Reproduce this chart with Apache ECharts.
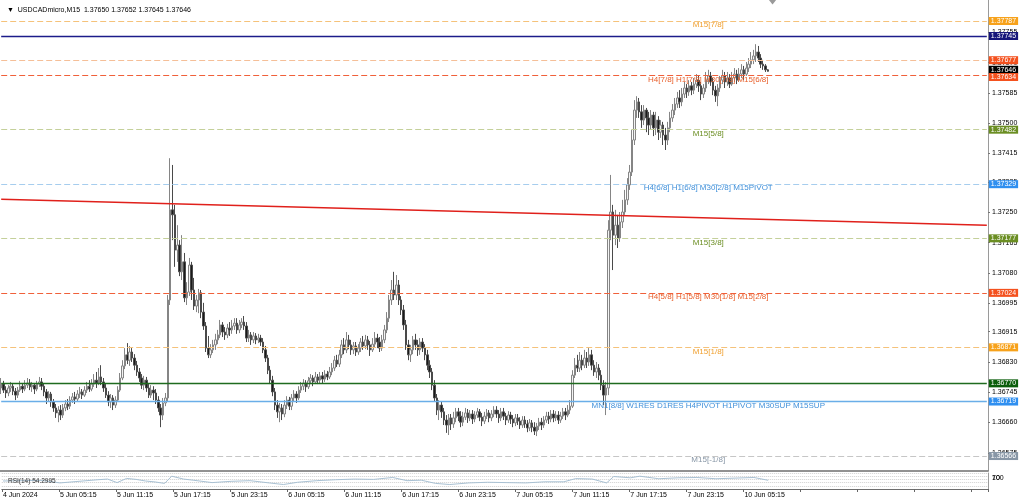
<!DOCTYPE html>
<html>
<head>
<meta charset="utf-8">
<script src="https://cdn.jsdelivr.net/npm/echarts@6.0.0/dist/echarts.min.js"></script>
<style>
html,body{margin:0;padding:0;background:#fff;}
#chart{width:1024px;height:501px;}
</style>
</head>
<body>
<div id="chart"></div>
<script>
// ---------- DATA ----------
const symbolName = "USDCADmicro,M15";
// candles: [open, close, low, high]
const candles = [
[1.36757,1.36768,1.36740,1.36785],[1.36768,1.36751,1.36743,1.36777],[1.36751,1.36743,1.36729,1.36762],[1.36743,1.36757,1.36734,1.36765],
[1.36757,1.36762,1.36746,1.36774],[1.36762,1.36748,1.36737,1.36771],[1.36748,1.36737,1.36723,1.36757],[1.36737,1.36751,1.36729,1.36760],
[1.36751,1.36762,1.36746,1.36777],[1.36762,1.36754,1.36743,1.36771],[1.36754,1.36765,1.36748,1.36779],[1.36765,1.36771,1.36757,1.36785],
[1.36771,1.36760,1.36751,1.36782],[1.36760,1.36765,1.36746,1.36774],[1.36765,1.36754,1.36740,1.36771],[1.36754,1.36768,1.36748,1.36777],
[1.36768,1.36774,1.36760,1.36788],[1.36774,1.36762,1.36751,1.36785],[1.36762,1.36746,1.36734,1.36771],[1.36746,1.36729,1.36712,1.36754],
[1.36729,1.36740,1.36718,1.36748],[1.36740,1.36718,1.36704,1.36746],[1.36718,1.36701,1.36690,1.36726],[1.36701,1.36687,1.36673,1.36712],
[1.36687,1.36695,1.36661,1.36706],[1.36695,1.36681,1.36667,1.36709],[1.36681,1.36701,1.36673,1.36712],[1.36701,1.36712,1.36692,1.36723],
[1.36712,1.36706,1.36695,1.36726],[1.36706,1.36723,1.36698,1.36734],[1.36723,1.36732,1.36715,1.36743],[1.36732,1.36726,1.36712,1.36746],
[1.36726,1.36740,1.36720,1.36751],[1.36740,1.36746,1.36729,1.36760],[1.36746,1.36737,1.36726,1.36754],[1.36737,1.36751,1.36732,1.36762],
[1.36751,1.36762,1.36743,1.36774],[1.36762,1.36754,1.36746,1.36779],[1.36754,1.36768,1.36748,1.36782],[1.36768,1.36779,1.36760,1.36796],
[1.36779,1.36771,1.36757,1.36802],[1.36771,1.36788,1.36765,1.36813],[1.36788,1.36774,1.36765,1.36821],[1.36774,1.36757,1.36746,1.36785],
[1.36757,1.36737,1.36729,1.36768],[1.36737,1.36718,1.36706,1.36748],[1.36718,1.36729,1.36701,1.36740],[1.36729,1.36709,1.36695,1.36737],
[1.36709,1.36723,1.36701,1.36734],[1.36723,1.36751,1.36718,1.36762],[1.36751,1.36785,1.36746,1.36799],[1.36785,1.36819,1.36779,1.36835],
[1.36819,1.36850,1.36810,1.36869],[1.36850,1.36835,1.36824,1.36883],[1.36835,1.36858,1.36819,1.36875],[1.36858,1.36841,1.36830,1.36869],
[1.36841,1.36821,1.36807,1.36852],[1.36821,1.36802,1.36791,1.36833],[1.36802,1.36785,1.36774,1.36813],[1.36785,1.36765,1.36754,1.36796],
[1.36765,1.36779,1.36751,1.36791],[1.36779,1.36757,1.36746,1.36788],[1.36757,1.36737,1.36729,1.36768],[1.36737,1.36751,1.36729,1.36765],
[1.36751,1.36743,1.36723,1.36762],[1.36743,1.36723,1.36712,1.36754],[1.36723,1.36701,1.36690,1.36734],[1.36701,1.36681,1.36647,1.36712],
[1.36681,1.36715,1.36667,1.36729],[1.36715,1.36729,1.36706,1.36743],[1.36729,1.37004,1.36718,1.37018],[1.37004,1.37257,1.36990,1.37402],
[1.37257,1.37243,1.37172,1.37383],[1.37243,1.37144,1.37097,1.37271],[1.37144,1.37158,1.37111,1.37214],[1.37158,1.37083,1.37071,1.37172],
[1.37083,1.37111,1.37060,1.37186],[1.37111,1.37010,1.36998,1.37136],[1.37010,1.37026,1.36990,1.37054],[1.37026,1.37102,1.37015,1.37122],
[1.37102,1.37032,1.37004,1.37111],[1.37032,1.36987,1.36976,1.37066],[1.36987,1.37004,1.36970,1.37018],[1.37004,1.37024,1.36967,1.37035],
[1.37024,1.36970,1.36953,1.37032],[1.36970,1.36931,1.36920,1.36996],[1.36931,1.36869,1.36858,1.36942],[1.36869,1.36850,1.36841,1.36903],
[1.36850,1.36864,1.36841,1.36880],[1.36864,1.36878,1.36855,1.36892],[1.36878,1.36892,1.36864,1.36909],[1.36892,1.36906,1.36880,1.36920],
[1.36906,1.36934,1.36897,1.36948],[1.36934,1.36914,1.36900,1.36942],[1.36914,1.36906,1.36892,1.36928],[1.36906,1.36925,1.36897,1.36937],
[1.36925,1.36920,1.36903,1.36942],[1.36920,1.36931,1.36909,1.36948],[1.36931,1.36939,1.36920,1.36953],[1.36939,1.36920,1.36909,1.36953],
[1.36920,1.36934,1.36911,1.36948],[1.36934,1.36942,1.36925,1.36953],[1.36942,1.36931,1.36920,1.36959],[1.36931,1.36897,1.36886,1.36942],
[1.36897,1.36906,1.36886,1.36920],[1.36906,1.36892,1.36878,1.36914],[1.36892,1.36903,1.36883,1.36914],[1.36903,1.36892,1.36880,1.36911],
[1.36892,1.36897,1.36883,1.36909],[1.36897,1.36886,1.36875,1.36906],[1.36886,1.36864,1.36855,1.36897],[1.36864,1.36841,1.36830,1.36875],
[1.36841,1.36807,1.36796,1.36850],[1.36807,1.36779,1.36768,1.36819],[1.36779,1.36746,1.36734,1.36791],[1.36746,1.36709,1.36695,1.36757],
[1.36709,1.36690,1.36673,1.36723],[1.36690,1.36701,1.36661,1.36715],[1.36701,1.36684,1.36667,1.36712],[1.36684,1.36709,1.36675,1.36723],
[1.36709,1.36723,1.36698,1.36734],[1.36723,1.36706,1.36695,1.36732],[1.36706,1.36729,1.36695,1.36740],[1.36729,1.36740,1.36720,1.36751],
[1.36740,1.36729,1.36715,1.36748],[1.36729,1.36751,1.36723,1.36762],[1.36751,1.36762,1.36743,1.36774],[1.36762,1.36771,1.36751,1.36782],
[1.36771,1.36760,1.36746,1.36779],[1.36760,1.36777,1.36754,1.36788],[1.36777,1.36785,1.36768,1.36796],[1.36785,1.36774,1.36762,1.36793],
[1.36774,1.36788,1.36768,1.36802],[1.36788,1.36779,1.36768,1.36796],[1.36779,1.36791,1.36771,1.36802],[1.36791,1.36782,1.36771,1.36802],
[1.36782,1.36796,1.36774,1.36807],[1.36796,1.36788,1.36779,1.36805],[1.36788,1.36802,1.36782,1.36816],[1.36802,1.36813,1.36793,1.36827],
[1.36813,1.36835,1.36805,1.36847],[1.36835,1.36824,1.36816,1.36850],[1.36824,1.36850,1.36816,1.36864],[1.36850,1.36878,1.36841,1.36892],
[1.36878,1.36864,1.36852,1.36897],[1.36864,1.36892,1.36855,1.36914],[1.36892,1.36878,1.36866,1.36906],[1.36878,1.36864,1.36850,1.36892],
[1.36864,1.36875,1.36852,1.36886],[1.36875,1.36858,1.36847,1.36886],[1.36858,1.36869,1.36850,1.36880],[1.36869,1.36886,1.36858,1.36897],
[1.36886,1.36875,1.36864,1.36903],[1.36875,1.36892,1.36866,1.36906],[1.36892,1.36878,1.36864,1.36903],[1.36878,1.36864,1.36847,1.36889],
[1.36864,1.36880,1.36858,1.36897],[1.36880,1.36897,1.36872,1.36914],[1.36897,1.36886,1.36869,1.36909],[1.36886,1.36869,1.36858,1.36900],
[1.36869,1.36892,1.36861,1.36906],[1.36892,1.36920,1.36883,1.36934],[1.36920,1.36953,1.36911,1.36970],[1.36953,1.37004,1.36942,1.37018],
[1.37004,1.37032,1.36990,1.37060],[1.37032,1.37018,1.37004,1.37083],[1.37018,1.37046,1.37004,1.37074],[1.37046,1.37004,1.36990,1.37060],
[1.37004,1.36976,1.36962,1.37015],[1.36976,1.36934,1.36920,1.36990],[1.36934,1.36878,1.36864,1.36948],[1.36878,1.36850,1.36835,1.36892],
[1.36850,1.36864,1.36830,1.36878],[1.36864,1.36892,1.36852,1.36903],[1.36892,1.36878,1.36864,1.36909],[1.36878,1.36864,1.36847,1.36892],
[1.36864,1.36886,1.36850,1.36897],[1.36886,1.36869,1.36858,1.36897],[1.36869,1.36850,1.36835,1.36880],[1.36850,1.36821,1.36807,1.36864],
[1.36821,1.36802,1.36785,1.36835],[1.36802,1.36765,1.36751,1.36813],[1.36765,1.36729,1.36718,1.36779],[1.36729,1.36695,1.36681,1.36740],
[1.36695,1.36709,1.36667,1.36723],[1.36709,1.36690,1.36673,1.36718],[1.36690,1.36667,1.36653,1.36701],[1.36667,1.36653,1.36631,1.36681],
[1.36653,1.36673,1.36625,1.36684],[1.36673,1.36656,1.36639,1.36684],[1.36656,1.36673,1.36645,1.36690],[1.36673,1.36690,1.36661,1.36701],
[1.36690,1.36678,1.36664,1.36701],[1.36678,1.36661,1.36647,1.36692],[1.36661,1.36675,1.36650,1.36690],[1.36675,1.36687,1.36667,1.36701],
[1.36687,1.36673,1.36659,1.36698],[1.36673,1.36684,1.36664,1.36695],[1.36684,1.36670,1.36656,1.36695],[1.36670,1.36681,1.36661,1.36692],
[1.36681,1.36690,1.36673,1.36701],[1.36690,1.36675,1.36664,1.36698],[1.36675,1.36664,1.36650,1.36687],[1.36664,1.36678,1.36656,1.36690],
[1.36678,1.36687,1.36670,1.36698],[1.36687,1.36673,1.36661,1.36695],[1.36673,1.36684,1.36664,1.36695],[1.36684,1.36695,1.36675,1.36706],
[1.36695,1.36684,1.36673,1.36706],[1.36684,1.36673,1.36659,1.36695],[1.36673,1.36690,1.36664,1.36701],[1.36690,1.36678,1.36667,1.36701],
[1.36678,1.36667,1.36653,1.36687],[1.36667,1.36681,1.36659,1.36692],[1.36681,1.36670,1.36656,1.36690],[1.36670,1.36659,1.36647,1.36681],
[1.36659,1.36673,1.36650,1.36684],[1.36673,1.36664,1.36653,1.36684],[1.36664,1.36653,1.36642,1.36675],[1.36653,1.36667,1.36645,1.36678],
[1.36667,1.36656,1.36645,1.36678],[1.36656,1.36645,1.36633,1.36667],[1.36645,1.36659,1.36636,1.36670],[1.36659,1.36647,1.36633,1.36667],
[1.36647,1.36636,1.36625,1.36661],[1.36636,1.36650,1.36622,1.36659],[1.36650,1.36661,1.36639,1.36673],[1.36661,1.36653,1.36639,1.36673],
[1.36653,1.36667,1.36645,1.36678],[1.36667,1.36678,1.36659,1.36690],[1.36678,1.36670,1.36656,1.36690],[1.36670,1.36684,1.36661,1.36695],
[1.36684,1.36673,1.36661,1.36695],[1.36673,1.36681,1.36664,1.36692],[1.36681,1.36667,1.36656,1.36692],[1.36667,1.36678,1.36659,1.36690],
[1.36678,1.36690,1.36670,1.36701],[1.36690,1.36681,1.36667,1.36701],[1.36681,1.36695,1.36675,1.36709],[1.36695,1.36706,1.36684,1.36723],
[1.36706,1.36793,1.36701,1.36807],[1.36793,1.36821,1.36785,1.36841],[1.36821,1.36813,1.36802,1.36850],[1.36813,1.36835,1.36802,1.36858],
[1.36835,1.36821,1.36807,1.36850],[1.36821,1.36841,1.36813,1.36864],[1.36841,1.36830,1.36813,1.36858],[1.36830,1.36850,1.36819,1.36869],
[1.36850,1.36821,1.36807,1.36864],[1.36821,1.36802,1.36791,1.36835],[1.36802,1.36813,1.36785,1.36830],[1.36813,1.36793,1.36779,1.36824],
[1.36793,1.36765,1.36751,1.36807],[1.36765,1.36737,1.36709,1.36779],[1.36737,1.36757,1.36681,1.36774],[1.36757,1.37200,1.36737,1.37228],
[1.37200,1.37251,1.37172,1.37355],[1.37251,1.37186,1.37088,1.37271],[1.37186,1.37214,1.37158,1.37257],[1.37214,1.37178,1.37150,1.37243],
[1.37178,1.37223,1.37167,1.37251],[1.37223,1.37251,1.37206,1.37285],[1.37251,1.37285,1.37243,1.37313],[1.37285,1.37327,1.37271,1.37346],
[1.37327,1.37363,1.37313,1.37383],[1.37363,1.37453,1.37352,1.37481],[1.37453,1.37537,1.37439,1.37565],[1.37537,1.37560,1.37515,1.37576],
[1.37560,1.37532,1.37515,1.37571],[1.37532,1.37509,1.37487,1.37551],[1.37509,1.37537,1.37495,1.37551],[1.37537,1.37515,1.37475,1.37543],
[1.37515,1.37495,1.37467,1.37532],[1.37495,1.37523,1.37481,1.37537],[1.37523,1.37487,1.37464,1.37532],[1.37487,1.37509,1.37467,1.37532],
[1.37509,1.37475,1.37453,1.37520],[1.37475,1.37495,1.37459,1.37509],[1.37495,1.37467,1.37439,1.37504],[1.37467,1.37453,1.37425,1.37487],
[1.37453,1.37487,1.37439,1.37504],[1.37487,1.37515,1.37475,1.37532],[1.37515,1.37537,1.37504,1.37554],[1.37537,1.37554,1.37523,1.37571],
[1.37554,1.37571,1.37543,1.37588],[1.37571,1.37560,1.37543,1.37593],[1.37560,1.37582,1.37548,1.37599],[1.37582,1.37599,1.37571,1.37616],
[1.37599,1.37588,1.37571,1.37610],[1.37588,1.37605,1.37577,1.37621],[1.37605,1.37593,1.37579,1.37616],[1.37593,1.37610,1.37582,1.37627],
[1.37610,1.37621,1.37599,1.37638],[1.37621,1.37605,1.37588,1.37633],[1.37605,1.37582,1.37565,1.37616],[1.37582,1.37599,1.37571,1.37610],
[1.37599,1.37621,1.37588,1.37644],[1.37621,1.37633,1.37610,1.37650],[1.37633,1.37616,1.37605,1.37644],[1.37616,1.37593,1.37579,1.37627],
[1.37593,1.37577,1.37560,1.37605],[1.37577,1.37599,1.37548,1.37610],[1.37599,1.37621,1.37588,1.37633],[1.37621,1.37633,1.37610,1.37650],
[1.37633,1.37616,1.37599,1.37644],[1.37616,1.37627,1.37605,1.37644],[1.37627,1.37610,1.37599,1.37638],[1.37610,1.37627,1.37605,1.37644],
[1.37627,1.37638,1.37616,1.37655],[1.37638,1.37621,1.37610,1.37650],[1.37621,1.37638,1.37616,1.37655],[1.37638,1.37650,1.37627,1.37666],
[1.37650,1.37638,1.37621,1.37661],[1.37638,1.37655,1.37633,1.37672],[1.37655,1.37666,1.37644,1.37683],[1.37666,1.37678,1.37655,1.37700],
[1.37678,1.37689,1.37666,1.37706],[1.37689,1.37700,1.37672,1.37722],[1.37700,1.37683,1.37672,1.37717],[1.37683,1.37666,1.37655,1.37694],
[1.37666,1.37661,1.37650,1.37678],[1.37661,1.37650,1.37644,1.37666],[1.37650,1.37646,1.37645,1.37652]
];
const totalSlots = 415;                 // bar slots on the time axis (incl. chart shift)
const timeTickLabels = ["4 Jun 2024","5 Jun 05:15","5 Jun 11:15","5 Jun 17:15","5 Jun 23:15","6 Jun 05:15","6 Jun 11:15","6 Jun 17:15","6 Jun 23:15","7 Jun 05:15","7 Jun 11:15","7 Jun 17:15","7 Jun 23:15","10 Jun 05:15"];
const barsPerTick = 24;
const priceTicks = [1.37755,1.37670,1.37585,1.37500,1.37415,1.37335,1.37250,1.37165,1.37080,1.36995,1.36915,1.36830,1.36745,1.36660,1.36575];
const priceMin = 1.36524, priceMax = 1.37846;
const levelValues = [1.37787,1.37745,1.37677,1.37646,1.37634,1.37482,1.37329,1.37177,1.37024,1.36871,1.36770,1.36719,1.36566];
const levelNames  = ["M15[7/8]","","","","H4[7/8] H1[7/8] M30[7/8] M15[6/8]","M15[5/8]","H4[6/8] H1[6/8] M30[2/8] M15PIVOT","M15[3/8]","H4[5/8] H1[5/8] M30[1/8] M15[2/8]","M15[1/8]","","MN1[8/8] W1RES D1RES H4PIVOT H1PIVOT M30SUP M15SUP","M15[-1/8]"];
const trendLine = [[0,1.37287],[414,1.37214]];
const levelTextSlot = 297;
const rsiName = "RSI(14) 54.2995";
const rsiPoints = [[0,50],[8,52],[16,54],[24,38],[32,48],[40,58],[44,62],[48,40],[52,66],[56,60],[60,50],[64,44],[68,35],[71,80],[76,62],[80,55],[88,40],[96,48],[104,52],[112,38],[118,28],[124,42],[132,52],[140,58],[148,62],[156,60],[164,72],[170,52],[176,55],[182,35],[188,28],[196,38],[204,42],[212,40],[220,38],[228,45],[236,45],[241,65],[248,62],[254,38],[257,78],[264,70],[268,80],[276,64],[284,70],[292,72],[300,64],[308,68],[316,72],[322,54.3]];
const rsiLevels = [70,30];
const rsiLevelLabels = ["70","30"];
const rsiRangeLabels = ["100","0"];

// ---------- STYLES ----------
const FONT = "Liberation Sans";
const levelStyles = [
  {tag:'#f7a21b', line:'#f5c27a', type:[6,3], text:'#f0a030'},
  {tag:'#16167a', line:'#1c1c8a', type:'solid', text:'#16167a', width:1.3},
  {tag:'#f4511e', line:'#f5bf98', type:[6,3], text:'#f4511e'},
  {tag:'#000000', line:'rgba(0,0,0,0)', type:'solid', text:'#000', shift:-1.5},
  {tag:'#f4511e', line:'#f0603a', type:[6,3], text:'#e8602c', shift:1.5},
  {tag:'#6b8e23', line:'#c4d09a', type:[6,3], text:'#6b8e23'},
  {tag:'#2f8ff0', line:'#a6cdee', type:[6,3], text:'#4090da'},
  {tag:'#6b8e23', line:'#c4d09a', type:[6,3], text:'#6b8e23'},
  {tag:'#f4511e', line:'#f0603a', type:[6,3], text:'#e8602c'},
  {tag:'#f7a21b', line:'#f5c27a', type:[6,3], text:'#f0a030'},
  {tag:'#0b5e0b', line:'#1f6b1f', type:'solid', text:'#0b5e0b', width:1.3},
  {tag:'#2f8ff0', line:'#6aaee8', type:'solid', text:'#4090da', width:1.3},
  {tag:'#8796a6', line:'#c6c6c6', type:[6,3], text:'#8796a6'}
];

const categories = Array.from({length: totalSlots}, (_, i) => String(i));
const last = candles[candles.length - 1];
const titleText = symbolName + "  " + [last[0], last[3], last[2], last[1]].map(v => v.toFixed(5)).join(" ");

// horizontal level lines (one line series each, so every line keeps its own colour)
const levelSeries = levelValues.map((v, i) => {
  const st = levelStyles[i];
  return {
    type: 'line', xAxisIndex: 0, yAxisIndex: 0, data: [], silent: true, z: 3,
    markLine: {symbol: 'none', silent: true, animation: false, precision: 5,
      lineStyle: {color: st.line, type: st.type, width: st.width || 1, opacity: 1},
      label: {show: true, position: 'end', distance: 2, formatter: v.toFixed(5),
              backgroundColor: st.tag, color: '#fff', fontSize: 7, fontFamily: FONT,
              padding: [1, 2, 0, 2], lineHeight: 7, offset: [0, st.shift || 0]},
      data: [[{coord: [0, v]}, {coord: [totalSlots - 1, v]}]]}
  };
});
const trendStyle = {color: '#e0201b', width: 1.5, type: 'solid', opacity: 1};

const levelTexts = levelValues.map((v, i) => ({v, i})).filter(o => levelNames[o.i]).map(o => ({
  coord: [levelTextSlot, o.v],
  symbol: 'rect', symbolSize: 0,
  label: {show: true, position: 'inside', formatter: levelNames[o.i], color: levelStyles[o.i].text,
          fontSize: 8, fontFamily: FONT, offset: [0, 4]}
}));

const rsiAxisBase = {type: 'value', gridIndex: 1, position: 'right', min: 0, max: 100, axisTick: {show: false}, splitLine: {show: false}};

const chart = echarts.init(document.getElementById('chart'), null, {renderer: 'canvas'});
chart.setOption({
  animation: false,
  backgroundColor: '#ffffff',
  title: [
    {text: '\u25BC  ' + titleText, left: 2, top: 2, textStyle: {fontSize: 7, fontWeight: 'normal', color: '#000', fontFamily: FONT}},
    {text: rsiName, left: 3, top: 473, textStyle: {fontSize: 6.5, fontWeight: 'normal', color: '#333', fontFamily: FONT}}
  ],
  grid: [
    {left: 0, top: 0, width: 988, height: 471},
    {left: 0, top: 473, width: 988, height: 16}
  ],
  xAxis: [
    {type: 'category', gridIndex: 0, data: categories, boundaryGap: true,
     axisLine: {show: true, lineStyle: {color: '#6e6e6e', width: 1.5}}, axisTick: {show: false}, axisLabel: {show: false}, splitLine: {show: false}},
    {type: 'category', gridIndex: 1, data: categories, boundaryGap: true,
     axisLine: {show: true, lineStyle: {color: '#6e6e6e', width: 1}},
     axisTick: {show: true, length: 3, interval: (i) => i % barsPerTick === 0, lineStyle: {color: '#666'}},
     axisLabel: {show: true, interval: (i) => i % barsPerTick === 0 && i / barsPerTick < timeTickLabels.length,
                 formatter: (v) => timeTickLabels[Math.round(Number(v) / barsPerTick)] || '',
                 align: 'left', fontSize: 7, color: '#000', fontFamily: FONT, margin: 3},
     splitLine: {show: false}}
  ],
  yAxis: [
    {type: 'value', gridIndex: 0, position: 'right', min: priceMin, max: priceMax,
     axisLine: {show: true, lineStyle: {color: '#9a9a9a'}},
     axisTick: {show: true, length: 2, customValues: priceTicks, lineStyle: {color: '#777'}},
     axisLabel: {show: true, customValues: priceTicks, formatter: v => v.toFixed(5), fontSize: 7, color: '#000', fontFamily: FONT, margin: 4},
     splitLine: {show: false}},
    Object.assign({}, rsiAxisBase, {
     axisLine: {show: true, lineStyle: {color: '#9a9a9a'}},
     splitLine: {show: true, customValues: rsiLevels, lineStyle: {color: '#d0d0d0', type: 'dotted', width: 1}},
     axisLabel: {show: true, customValues: rsiLevels, formatter: v => rsiLevelLabels[rsiLevels.indexOf(v)] || '',
                 showMinLabel: true, showMaxLabel: true, hideOverlap: false, fontSize: 7, color: '#000', fontFamily: FONT, margin: 4}}),
    Object.assign({}, rsiAxisBase, {
     axisLine: {show: false},
     axisLabel: {show: true, customValues: rsiLevels, formatter: v => rsiRangeLabels[rsiLevels.indexOf(v)] || '',
                 showMinLabel: true, showMaxLabel: true, hideOverlap: false, fontSize: 7, color: '#000', fontFamily: FONT, margin: 4}})
  ],
  series: levelSeries.concat([
    {
      type: 'candlestick', xAxisIndex: 0, yAxisIndex: 0, data: candles, barWidth: 2, z: 4,
      itemStyle: {color: '#f4f4f4', color0: '#1a1a1a', borderColor: '#858585', borderColor0: '#4a4a4a', borderWidth: 1},
      markLine: {symbol: 'none', silent: true, animation: false, lineStyle: trendStyle, label: {show: false},
        data: [[{coord: trendLine[0]}, {coord: trendLine[1]}]]},
      markPoint: {silent: true, animation: false, data: levelTexts.concat([
        {coord: [candles.length + 1, priceMax], symbol: 'triangle', symbolRotate: 180, symbolSize: [8, 5], symbolOffset: [0, 2],
         itemStyle: {color: '#9a9a9a'}, label: {show: false}}
      ])}
    },
    {
      type: 'line', xAxisIndex: 1, yAxisIndex: 1, data: rsiPoints, showSymbol: false, symbol: 'none',
      lineStyle: {color: '#a9c1d3', width: 1}
    }
  ])
});
</script>
</body>
</html>
